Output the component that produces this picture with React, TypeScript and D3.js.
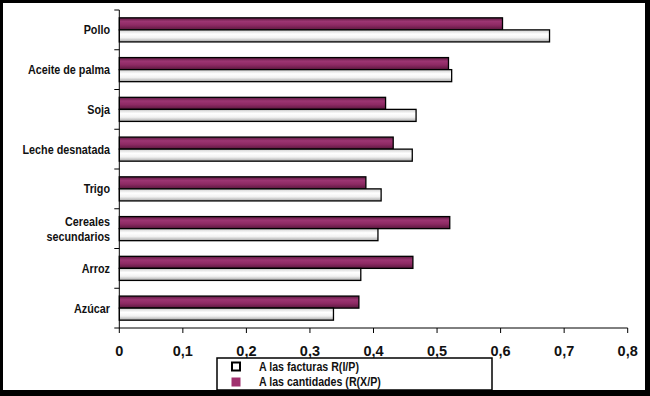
import React, { useRef, useEffect } from "react";
import * as d3 from "d3";

const width = 650;
const height = 396;

const categories = [
  "Pollo",
  "Aceite de palma",
  "Soja",
  "Leche desnatada",
  "Trigo",
  "Cereales secundarios",
  "Arroz",
  "Azúcar"
];
// A las cantidades (R(X/P)  -- purple
const cantidades = [0.603, 0.518, 0.419, 0.431, 0.388, 0.52, 0.462, 0.377];
// A las facturas R(I/P)  -- white
const facturas = [0.677, 0.523, 0.467, 0.461, 0.412, 0.407, 0.38, 0.337];
const xTicks = [0, 0.1, 0.2, 0.3, 0.4, 0.5, 0.6, 0.7, 0.8];
const legendLabels = ["A las facturas R(I/P)", "A las cantidades (R(X/P)"];

const sans = "'Liberation Sans', Arial, sans-serif";
// no narrow face installed: squeeze horizontally instead
const squeeze = 0.83;

export default function App() {
  const ref = useRef<SVGSVGElement | null>(null);

  useEffect(() => {
    const svg = d3.select(ref.current);
    svg.selectAll("*").remove();

    // gradients
    const defs = svg.append("defs");
    const gp = defs.append("linearGradient").attr("id", "gPurple").attr("x1", 0).attr("x2", 0).attr("y1", 0).attr("y2", 1);
    [["0%", "#5c1940"], ["30%", "#9c3572"], ["60%", "#8e2a64"], ["100%", "#5a173d"]].forEach(([o, c]) =>
      gp.append("stop").attr("offset", o).attr("stop-color", c)
    );
    const gw = defs.append("linearGradient").attr("id", "gWhite").attr("x1", 0).attr("x2", 0).attr("y1", 0).attr("y2", 1);
    [["0%", "#cfcfcf"], ["35%", "#ffffff"], ["65%", "#f2f2f2"], ["100%", "#a6a6a6"]].forEach(([o, c]) =>
      gw.append("stop").attr("offset", o).attr("stop-color", c)
    );

    // frame
    svg.append("rect").attr("width", width).attr("height", height).attr("fill", "#000");
    svg.append("rect").attr("x", 3).attr("y", 3).attr("width", 642).attr("height", 387).attr("fill", "#fff");

    const x = d3.scaleLinear().domain([0, 0.8]).range([119.3, 627.7]);
    const y = d3.scaleBand().domain(categories).range([10, 328]);
    const inner = d3.scaleBand().domain(["cant", "fact"]).range([0, y.bandwidth()]).paddingOuter(0.65);

    const g = svg.append("g");

    categories.forEach((c, i) => {
      const y0 = y(c)!;
      g.append("rect")
        .attr("x", x(0))
        .attr("y", y0 + inner("cant")!)
        .attr("width", x(cantidades[i]) - x(0))
        .attr("height", inner.bandwidth())
        .attr("fill", "url(#gPurple)")
        .attr("stroke", "#000")
        .attr("stroke-width", 1.3);
      g.append("rect")
        .attr("x", x(0))
        .attr("y", y0 + inner("fact")!)
        .attr("width", x(facturas[i]) - x(0))
        .attr("height", inner.bandwidth())
        .attr("fill", "url(#gWhite)")
        .attr("stroke", "#000")
        .attr("stroke-width", 1.3);
    });

    // y axis
    g.append("line").attr("x1", x(0)).attr("x2", x(0)).attr("y1", 10).attr("y2", 328).attr("stroke", "#000").attr("stroke-width", 1);
    const yEdges = categories.map((c) => y(c)!).concat([328]);
    g.selectAll(".yt").data(yEdges).enter().append("line")
      .attr("x1", x(0) - 5).attr("x2", x(0)).attr("y1", (d) => d).attr("y2", (d) => d)
      .attr("stroke", "#000");

    categories.forEach((c) => {
      const words = c === "Cereales secundarios" ? ["Cereales", "secundarios"] : [c];
      const cy = y(c)! + y.bandwidth() / 2;
      const t = g.append("g")
        .attr("transform", `translate(110,${cy}) scale(${squeeze},1)`)
        .append("text")
        .attr("text-anchor", "end")
        .attr("font-family", sans)
        .attr("font-weight", "bold")
        .attr("font-size", 13)
        .attr("fill", "#111");
      words.forEach((w, k) => {
        t.append("tspan")
          .attr("x", 0)
          .attr("y", 4.5 + (k - (words.length - 1) / 2) * 15)
          .text(w);
      });
    });

    // x axis
    g.append("line").attr("x1", x(0)).attr("x2", x(0.8)).attr("y1", 328).attr("y2", 328).attr("stroke", "#000");
    g.selectAll(".xt").data(xTicks).enter().append("line")
      .attr("x1", (d) => x(d)).attr("x2", (d) => x(d)).attr("y1", 328).attr("y2", 333)
      .attr("stroke", "#000");
    g.selectAll(".xl").data(xTicks).enter().append("text")
      .attr("x", (d) => x(d))
      .attr("y", 355.5)
      .attr("text-anchor", "middle")
      .attr("font-family", sans)
      .attr("font-weight", "bold")
      .attr("font-size", 14.5)
      .attr("fill", "#111")
      .text((d) => (d === 0 ? "0" : d3.format(".1f")(d).replace(".", ",")));

    // legend
    const lg = svg.append("g");
    lg.append("rect").attr("x", 217).attr("y", 358).attr("width", 275).attr("height", 32)
      .attr("fill", "#fff").attr("stroke", "#000").attr("stroke-width", 1.5);
    lg.append("rect").attr("x", 232).attr("y", 362.5).attr("width", 8).attr("height", 8)
      .attr("fill", "#fff").attr("stroke", "#000").attr("stroke-width", 2);
    lg.append("rect").attr("x", 231.5).attr("y", 377.5).attr("width", 9).attr("height", 9)
      .attr("fill", "#a0306e");
    legendLabels.forEach((l, i) => {
      lg.append("g")
        .attr("transform", `translate(259,${371 + i * 15}) scale(0.85,1)`)
        .append("text")
        .attr("font-family", sans)
        .attr("font-weight", "bold")
        .attr("font-size", 12.5)
        .attr("fill", "#111")
        .text(l);
    });
  }, []);

  return (
    <svg
      ref={ref}
      width={width}
      height={height}
      style={{ position: "absolute", left: 0, top: 0, display: "block" }}
    />
  );
}
